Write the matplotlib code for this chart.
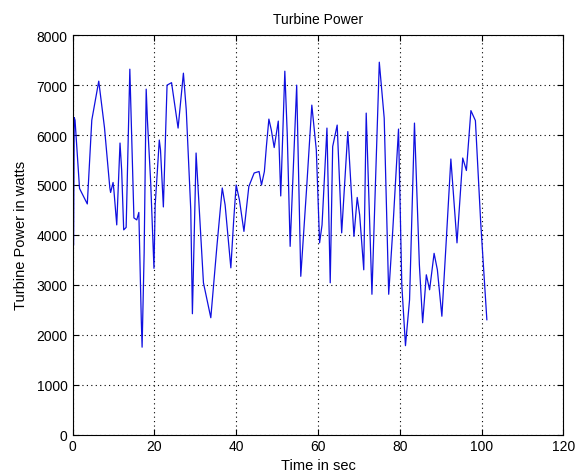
import matplotlib
matplotlib.use("Agg")
import matplotlib.pyplot as plt
import numpy as np

plt.rcParams['font.family'] = ['Liberation Sans', 'DejaVu Sans']

# turbine power (time in sec, power in watts)
time = np.array([0.25, 0.4, 0.6, 1.7, 3.6, 4.7, 6.4, 7.8, 9.1, 9.3, 9.9, 10.1, 10.8,
                 11.6, 12.0, 12.5, 13.1, 14.0, 15.0, 15.7, 16.2, 16.8, 17.0, 17.5,
                 18.0, 18.3, 19.1, 19.9, 20.2, 20.7, 21.2, 21.5, 22.2, 23.1, 24.2,
                 25.8, 27.1, 27.8, 28.9, 29.3, 30.0, 30.2, 32.0, 33.8, 35.3, 36.6,
                 37.3, 38.7, 39.4, 40.0, 40.8, 41.9, 43.1, 44.4, 45.6, 46.2, 46.9,
                 47.4, 48.0, 48.6, 49.3, 50.3, 50.9, 51.9, 52.5, 53.2, 54.8, 55.8,
                 57.2, 58.5, 59.6, 60.4, 61.0, 62.2, 63.0, 63.6, 64.7, 65.8, 67.3,
                 68.8, 69.6, 70.2, 71.2, 71.8, 73.2, 75.0, 76.2, 77.3, 78.3, 79.7,
                 80.5, 81.4, 82.4, 83.6, 84.8, 85.6, 86.5, 87.3, 88.4, 89.2, 90.3,
                 91.3, 92.5, 94.0, 95.4, 96.3, 97.4, 98.5, 99.8, 101.3])
power = np.array([3800, 6350, 6300, 4930, 4620, 6300, 7080, 6150, 4950, 4850, 5050,
                  4900, 4200, 5840, 5300, 4100, 4150, 7320, 4340, 4300, 4450, 2300,
                  1750, 3640, 6920, 6300, 5050, 3330, 4600, 5240, 5900, 5700, 4560,
                  7000, 7050, 6140, 7240, 6500, 4500, 2420, 4900, 5640, 3040, 2340,
                  3780, 4940, 4600, 3340, 4300, 5000, 4700, 4070, 4970, 5240, 5270,
                  5000, 5270, 5780, 6320, 6100, 5750, 6280, 4780, 7280, 6000, 3770,
                  7000, 3170, 4900, 6600, 5700, 3840, 4200, 6140, 3040, 5770, 6200,
                  4040, 6070, 3970, 4750, 4400, 3300, 6440, 2810, 7460, 6340, 2810,
                  4100, 6120, 3000, 1780, 2700, 6240, 3400, 2240, 3200, 2900, 3630,
                  3300, 2370, 3780, 5520, 3840, 5540, 5290, 6490, 6290, 4240, 2300])

fig = plt.figure(figsize=(5.76, 4.77), dpi=100)
ax = fig.add_axes([0.126, 0.087, 0.852, 0.837])

ax.plot(time, power, color='#1010e0', linewidth=0.9)

ax.set_xlim(0, 120)
ax.set_ylim(0, 8000)
ax.set_xticks(np.arange(0, 121, 20))
ax.set_yticks(np.arange(0, 8001, 1000))
ax.grid(True, color='black', linestyle=(0, (1, 3)), linewidth=0.8)
ax.tick_params(direction='in', top=True, right=True, labelsize=10, length=4)
for s in ax.spines.values():
    s.set_linewidth(0.8)

ax.set_title('Turbine Power', fontsize=10, pad=9)
ax.set_xlabel('Time in sec', fontsize=10.5, labelpad=3)
ax.set_ylabel('Turbine Power in watts', fontsize=10.5, labelpad=6)

fig.savefig('out.png', dpi=100)
